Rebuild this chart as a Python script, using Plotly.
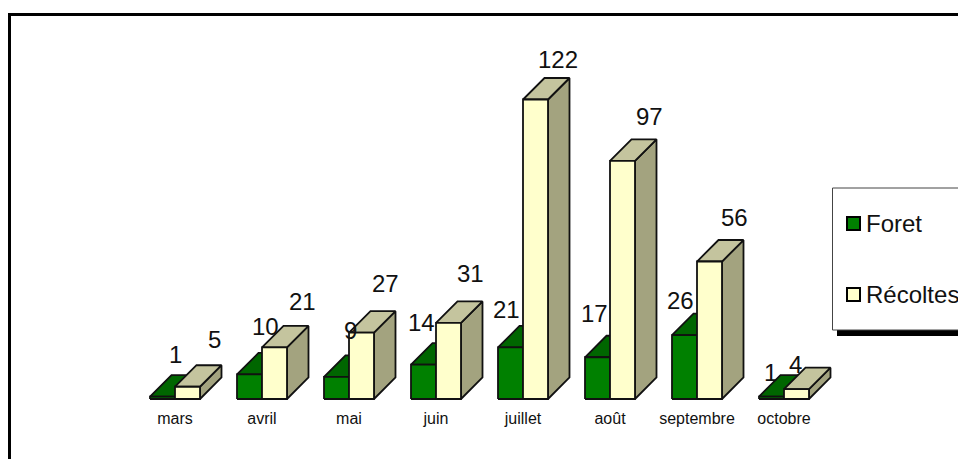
import plotly.graph_objects as go

categories = ["mars", "avril", "mai", "juin", "juillet", "août", "septembre", "octobre"]
foret = [1, 10, 9, 14, 21, 17, 26, 1]
recoltes = [5, 21, 27, 31, 122, 97, 56, 4]

# label placement (pixels relative to the point at the front-centre boundary / top of bar)
foret_dx = [0, 3, 1, -15, -17, -16, -17, -14]
foret_dy = [42, 48, 46, 42, 38, 44, 35, 24]
rec_dx = [39, 40, 36, 34, 35, 39, 37, 11]
rec_dy = [47, 46, 49, 49, 40, 44, 44, 25]

W, H = 958, 459
PX_X = 87.0     # pixels per category
PX_Y = 2.455    # pixels per unit
X0, Y0 = 175.0, 399.0
AXIS_BOTTOM = 407.0
BAR = 25.0 / PX_X
DX = 21.5 / PX_X
DY = 21.5 / PX_Y

LINE = dict(color="#111111", width=1.8)


def faces(values, start):
    """Front, top and side polygons of one series."""
    front_x, front_y, top_x, top_y, side_x, side_y = [], [], [], [], [], []
    for i, v in enumerate(values):
        l, r = i + start, i + start + BAR
        front_x += [l, r, r, l, l, None]
        front_y += [0, 0, v, v, 0, None]
        top_x += [l, r, r + DX, l + DX, l, None]
        top_y += [v, v, v + DY, v + DY, v, None]
        side_x += [r, r + DX, r + DX, r, r, None]
        side_y += [0, DY, v + DY, v, 0, None]
    return (front_x, front_y), (top_x, top_y), (side_x, side_y)


fig = go.Figure()


def add_series(name, values, start, c_front, c_top, c_side):
    front, top, side = faces(values, start)
    for (xs, ys), col, part in ((side, c_side, "côté"), (top, c_top, "dessus"), (front, c_front, "face")):
        fig.add_trace(go.Scatter(x=xs, y=ys, mode="lines", fill="toself", fillcolor=col,
                                 line=LINE, name=f"{name} {part}", showlegend=False,
                                 hoverinfo="skip"))


add_series("Foret", foret, -BAR, "#008000", "#006600", "#004d00")
add_series("Récoltes", recoltes, 0, "#FFFFCC", "#C4C49E", "#A3A37F")

annotations = []
for i in range(len(categories)):
    for v, dx, dy in ((foret[i], foret_dx[i], foret_dy[i]), (recoltes[i], rec_dx[i], rec_dy[i])):
        annotations.append(dict(x=i, y=v, xref="x", yref="y", text=str(v), showarrow=False,
                                xshift=dx, yshift=dy, xanchor="center", yanchor="middle",
                                font=dict(family="Liberation Sans", size=24, color="#111111")))


def px(x):
    return x / W


def py(y):
    # paper coordinates are relative to the plot area, which ends at AXIS_BOTTOM
    return 1 - y / AXIS_BOTTOM


def rect(x0, y0, x1, y1, fill, line_color=None, line_width=0):
    return dict(type="rect", xref="paper", yref="paper", x0=px(x0), x1=px(x1), y0=py(y0), y1=py(y1),
                fillcolor=fill, line=dict(color=line_color or fill, width=line_width), layer="above")


shapes = [
    rect(8, 13, W + 2, 16, "#000000"),
    rect(8, 13, 11, H + 2, "#000000"),
    rect(837, 330, W + 2, 336, "#000000"),
    rect(832.5, 188, W + 5, 330, "#FFFFFF", "#444444", 1),
    rect(847, 217, 860, 230, "#008000", "#000000", 2),
    rect(847, 288, 860, 301, "#FFFFCC", "#000000", 2),
]
for label, y in (("Foret", 223), ("Récoltes", 294)):
    annotations.append(dict(x=px(864), y=py(y), xref="paper", yref="paper", text=label, showarrow=False,
                            xanchor="left", yanchor="middle",
                            font=dict(family="Liberation Sans", size=24, color="#111111")))

fig.update_layout(
    width=W, height=H, margin=dict(l=0, r=0, t=0, b=H - AXIS_BOTTOM, pad=0, autoexpand=False),
    paper_bgcolor="white", plot_bgcolor="white", showlegend=False,
    annotations=annotations, shapes=shapes,
    xaxis=dict(range=[-X0 / PX_X, (W - X0) / PX_X], tickvals=list(range(len(categories))),
               ticktext=categories, showgrid=False, zeroline=False, showline=False, ticks="",
               tickfont=dict(family="Liberation Sans", size=16, color="#111111"), fixedrange=True),
    yaxis=dict(range=[-(AXIS_BOTTOM - Y0) / PX_Y, Y0 / PX_Y], visible=False, showgrid=False,
               zeroline=False, fixedrange=True),
)
fig.write_html("out.html", config=dict(displayModeBar=False),
               post_script="document.body.style.margin='0';document.body.style.overflow='hidden';")
